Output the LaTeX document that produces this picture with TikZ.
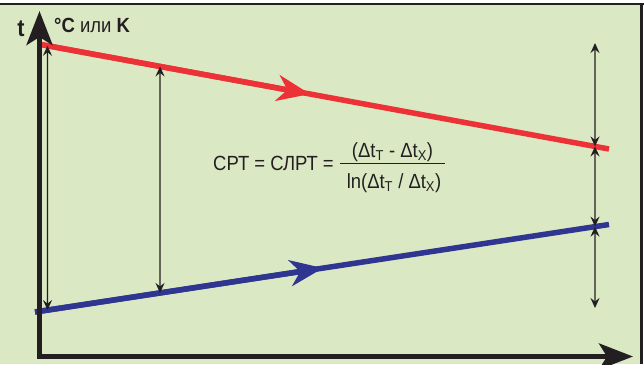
\documentclass[tikz,border=0pt]{standalone}
\usepackage{fontspec}
\setmainfont{Liberation Sans}[FakeStretch=0.9]
\usetikzlibrary{arrows.meta}
\definecolor{panel}{RGB}{219,232,196}
\definecolor{ink}{RGB}{35,31,32}
\definecolor{hotred}{RGB}{237,50,55}
\definecolor{coldblue}{RGB}{46,54,145}

\begin{document}
\begin{tikzpicture}[x=1pt,y=-1pt,
	every node/.style={font=\fontsize{20.5}{22}\selectfont, text=ink, inner sep=0pt},
	axis/.style={ink, line width=5pt, line join=miter, {Stealth[length=34pt,width=26pt,inset=8pt]}-{Stealth[length=34pt,width=26pt,inset=8pt]}},
	flow/.style={line width=5.5pt},
	dim/.style={ink, line width=1.4pt, {Stealth[length=10pt,width=9pt,inset=3.5pt]}-{Stealth[length=10pt,width=9pt,inset=3.5pt]}}]
	\useasboundingbox (0,0) rectangle (644,364);
	\fill[white] (0,0) rectangle (644,364);
	\fill[panel] (0,5) rectangle (640,364);
	\draw[ink, line width=2.5pt] (0,4) -- (644,4);
	\draw[ink, line width=3.5pt] (641.5,3) -- (641.5,364);

	\coordinate (hotA) at (38,44);
	\coordinate (hotB) at (609,149);
	\coordinate (coldA) at (35,312);
	\coordinate (coldB) at (609,224.5);
	\draw[hotred, flow] (hotA) -- (hotB);
	\draw[coldblue, flow] (coldA) -- (coldB);
	\path (hotA) -- (hotB) coordinate[pos=0.0166] (h1) coordinate[pos=0.2137] (h2) coordinate[pos=0.9755] (h3) coordinate[pos=0.4764] (hmid);
	\path (coldA) -- (coldB) coordinate[pos=0.0218] (c1) coordinate[pos=0.2178] (c2) coordinate[pos=0.9756] (c3) coordinate[pos=0.5017] (cmid);
	\draw[hotred, flow, -{Stealth[length=33pt,width=26pt,inset=10pt]}] (hotA) -- (hmid);
	\draw[coldblue, flow, -{Stealth[length=33pt,width=26pt,inset=10pt]}] (coldA) -- (cmid);

	\foreach \i in {1,2} {\draw[dim] (h\i) -- (c\i);}
	\coordinate (dtop) at (595,43);
	\coordinate (dbot) at (595,308);
	\draw[dim] (dtop) -- (h3);
	\draw[dim] (h3) -- (c3);
	\draw[dim] (c3) -- (dbot);

	\coordinate (ytip) at (39.5,11);
	\coordinate (origin) at (39.5,356.5);
	\coordinate (xtip) at (633,356.5);
	\draw[axis] (ytip) -- (origin) -- (xtip);

	\node[font=\fontsize{24}{26}\selectfont\bfseries, anchor=base] (tlabel) at (21,36) {t};
	\node[anchor=base west] (units) at (54,32) {\textbf{°C} или \textbf{K}};
	\node[anchor=base west] (lhs) at (213,170) {СРТ = СЛРТ =};
	\node[anchor=base] (num) at (392.5,157) {(Δt\textsubscript{Т} - Δt\textsubscript{Х})};
	\node[anchor=base] (den) at (394,188) {ln(Δt\textsubscript{Т} / Δt\textsubscript{Х})};
	\draw[ink, line width=1.2pt] (340,163.3) -- (445,163.3);
\end{tikzpicture}
\end{document}
